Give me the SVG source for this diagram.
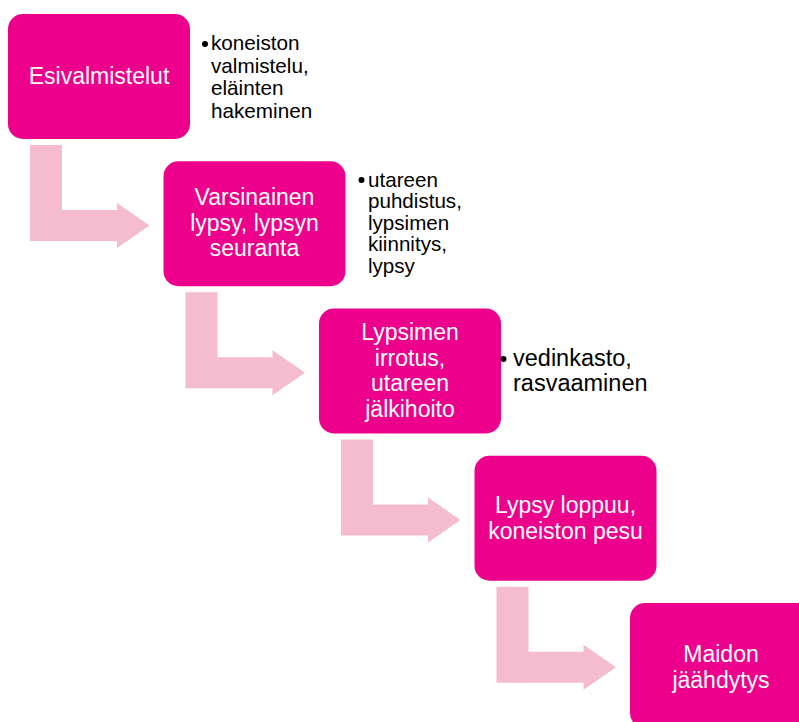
<svg xmlns="http://www.w3.org/2000/svg" width="799" height="722" viewBox="0 0 799 722">
<style>
.box{fill:#EC008C}
.arr{fill:#F5BBCF}
.bt{font-family:"Liberation Sans",Arial,sans-serif;font-size:23px;fill:#FFFFFF;text-anchor:middle}
.nt{font-family:"Liberation Sans",Arial,sans-serif;fill:#000000}
.dot{fill:#000000}
</style>
<defs>
<path id="bend" d="M30,145 H62 V210 H117 V203 L149.5,225.5 L117,248 V241 H30 Z"/>
</defs>
<rect width="799" height="722" fill="#FFFFFF"/>
<g id="connectors">
<use href="#bend" class="arr"/>
<use href="#bend" class="arr" transform="translate(155.5,147.25)"/>
<use href="#bend" class="arr" transform="translate(311,294.5)"/>
<use href="#bend" class="arr" transform="translate(466.5,441.75)"/>
</g>
<g id="n1">
<rect class="box" x="8" y="14" width="182" height="125" rx="15"/>
<text class="bt" x="99" y="83.5">Esivalmistelut</text>
</g>
<g id="n1-notes">
<circle class="dot" cx="205" cy="44" r="3"/>
<text class="nt" font-size="20.7"><tspan x="211" y="50">koneiston</tspan><tspan x="211" y="72.6">valmistelu,</tspan><tspan x="211" y="95.2">eläinten</tspan><tspan x="211" y="117.8">hakeminen</tspan></text>
</g>
<g id="n2">
<rect class="box" x="163.5" y="161.25" width="182" height="125" rx="15"/>
<text class="bt"><tspan x="254.5" y="205.25">Varsinainen</tspan><tspan x="254.5" y="230.75">lypsy, lypsyn</tspan><tspan x="254.5" y="256.25">seuranta</tspan></text>
</g>
<g id="n2-notes">
<circle class="dot" cx="361.5" cy="180" r="3"/>
<text class="nt" font-size="20.6"><tspan x="368" y="186.5">utareen</tspan><tspan x="368" y="208">puhdistus,</tspan><tspan x="368" y="229.5">lypsimen</tspan><tspan x="368" y="251">kiinnitys,</tspan><tspan x="368" y="272.5">lypsy</tspan></text>
</g>
<g id="n3">
<rect class="box" x="319" y="308.5" width="182" height="125" rx="15"/>
<text class="bt"><tspan x="410" y="340">Lypsimen</tspan><tspan x="410" y="365.5">irrotus,</tspan><tspan x="410" y="391">utareen</tspan><tspan x="410" y="416.5">jälkihoito</tspan></text>
</g>
<g id="n3-notes">
<circle class="dot" cx="503.5" cy="359" r="3"/>
<text class="nt" font-size="23.5"><tspan x="513" y="366">vedinkasto,</tspan><tspan x="513" y="391">rasvaaminen</tspan></text>
</g>
<g id="n4">
<rect class="box" x="474.5" y="455.75" width="182" height="125" rx="15"/>
<text class="bt"><tspan x="565.5" y="513">Lypsy loppuu,</tspan><tspan x="565.5" y="539">koneiston pesu</tspan></text>
</g>
<g id="n5">
<rect class="box" x="630" y="603" width="182" height="125" rx="15"/>
<text class="bt"><tspan x="721" y="662">Maidon</tspan><tspan x="721" y="687.5">jäähdytys</tspan></text>
</g>
</svg>
